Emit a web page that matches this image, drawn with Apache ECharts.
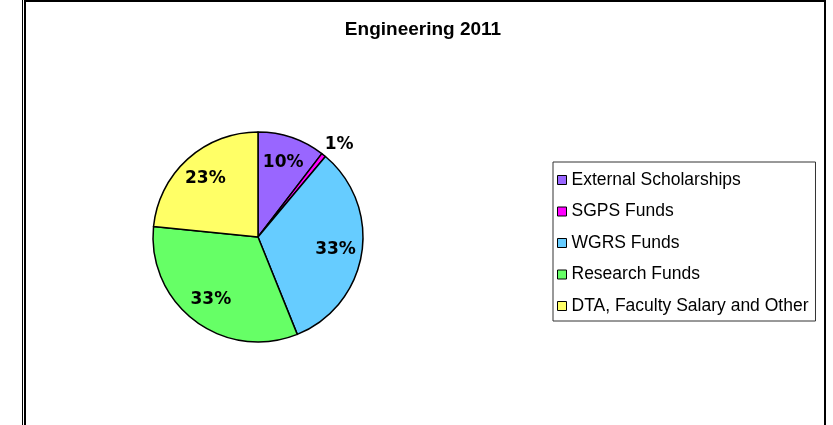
<!DOCTYPE html>
<html>
<head>
<meta charset="utf-8">
<script src="https://cdn.jsdelivr.net/npm/echarts@6/dist/echarts.min.js"></script>
<style>
  html, body { margin: 0; padding: 0; background: #fff; }
  #wrap { position: relative; width: 833px; height: 425px; overflow: hidden; background: #fff; }
  #line1 { position: absolute; left: 22px; top: 0; width: 1px; height: 425px; background: #000; }
  #frame { position: absolute; left: 24px; top: 0; width: 798px; height: 430px; border-top: 2px solid #000; border-left: 2px solid #000; border-right: 2px solid #000; }
  #chart { position: absolute; left: 0; top: 0; width: 833px; height: 425px; }
</style>
</head>
<body>
<div id="wrap">
  <div id="line1"></div>
  <div id="frame"></div>
  <div id="chart"></div>
</div>
<script>
const titleText = 'Engineering 2011';
const categories = ['External Scholarships', 'SGPS Funds', 'WGRS Funds', 'Research Funds', 'DTA, Faculty Salary and Other'];
const values = [10.4, 0.7, 32.8, 32.7, 23.4];
const colors = ['#9966FF', '#FF00FF', '#66CCFF', '#66FF66', '#FFFF66'];

const pieData = categories.map((name, i) => ({ name: name, value: values[i], itemStyle: { color: colors[i] } }));
const labelData = categories.map((name, i) => {
  const item = { name: name, value: values[i] };
  if (i === 1) {
    item.label = { position: 'outside', offset: [-9, -4] };
    item.labelLine = { show: false, length: 8, length2: 0 };
  }
  return item;
});

const chart = echarts.init(document.getElementById('chart'), null, { renderer: 'canvas' });
chart.setOption({
  animation: false,
  backgroundColor: 'transparent',
  color: colors,
  title: {
    text: titleText,
    left: 418,
    top: 15,
    textAlign: 'center',
    textStyle: { fontFamily: 'Liberation Sans', fontWeight: 'bold', fontSize: 19, color: '#000' }
  },
  legend: {
    orient: 'vertical',
    left: 553,
    top: 162,
    data: categories,
    icon: 'rect',
    itemWidth: 9,
    itemHeight: 9,
    itemGap: 13.5,
    padding: [9, 7, 6, 4],
    borderColor: '#333',
    borderWidth: 1,
    backgroundColor: '#fff',
    itemStyle: { borderColor: '#000', borderWidth: 1 },
    textStyle: { fontFamily: 'Liberation Sans', fontSize: 17.5, color: '#000' },
    selectedMode: false
  },
  series: [
    {
      type: 'pie',
      center: [258, 237],
      radius: [0, 105],
      startAngle: 90,
      clockwise: true,
      label: { show: false },
      labelLine: { show: false },
      itemStyle: { borderColor: '#000', borderWidth: 1.5 },
      emphasis: { disabled: true },
      data: pieData
    },
    {
      type: 'pie',
      center: [258, 237],
      radius: [46, 105],
      startAngle: 90,
      clockwise: true,
      silent: true,
      avoidLabelOverlap: false,
      percentPrecision: 0,
      itemStyle: { color: 'rgba(0,0,0,0)', borderWidth: 0 },
      label: {
        show: true,
        position: 'inside',
        formatter: '{d}%',
        fontFamily: 'DejaVu Sans',
        fontWeight: 'bold',
        fontSize: 17,
        color: '#000'
      },
      labelLine: { show: false },
      emphasis: { disabled: true },
      data: labelData
    }
  ]
});
</script>
</body>
</html>
